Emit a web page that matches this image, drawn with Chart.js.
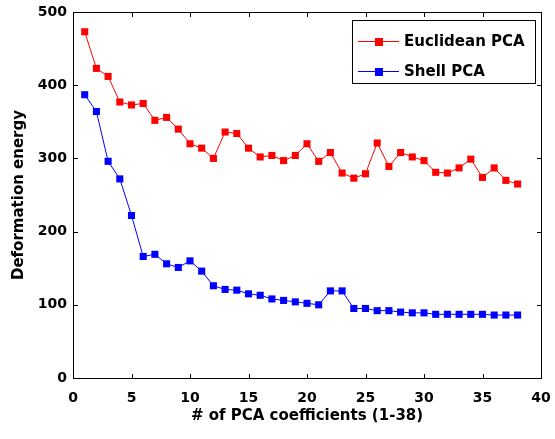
<!DOCTYPE html>
<html>
<head>
<meta charset="utf-8">
<script src="https://cdn.jsdelivr.net/npm/chart.js@4"></script>
<style>
  html, body { margin: 0; padding: 0; background: #fff; }
  canvas { display: block; }
</style>
</head>
<body>
<canvas id="energyChart" width="555" height="439"></canvas>
<script>
const coefficients = [1, 2, 3, 4, 5, 6, 7, 8, 9, 10, 11, 12, 13, 14, 15, 16, 17, 18, 19,
  20, 21, 22, 23, 24, 25, 26, 27, 28, 29, 30, 31, 32, 33, 34, 35, 36, 37, 38];
const euclideanPCA = [473, 423, 412, 377, 373, 375, 352, 356, 340, 320, 314, 300, 336, 334,
  314, 302, 304, 297, 304, 320, 296, 308, 280, 273, 279, 321, 289, 308, 302, 297, 281, 280,
  287, 299, 274, 287, 270, 265];
const shellPCA = [387, 364, 296, 272, 222, 166, 169, 156, 151, 160, 146, 126, 121, 120, 115,
  113, 108, 106, 104, 102, 100, 119, 119, 95, 95, 92, 92, 90, 89, 89, 87, 87, 87, 87, 87,
  86, 86, 86];
const xTicks = [0, 5, 10, 15, 20, 25, 30, 35, 40];
const yTicks = [0, 100, 200, 300, 400, 500];

const font = 'DejaVu Sans, sans-serif';

function toPoints(values) {
  return coefficients.map((c, i) => ({ x: c, y: values[i] }));
}

// matlab style box with inward ticks + legend inside the axes
const axesBoxPlugin = {
  id: 'axesBox',
  afterDraw(chart) {
    const ctx = chart.ctx;
    const xs = chart.scales.x, ys = chart.scales.y;
    const left = Math.round(xs.getPixelForValue(0)), right = Math.round(xs.getPixelForValue(40));
    const top = Math.round(ys.getPixelForValue(500)), bottom = Math.round(ys.getPixelForValue(0));
    ctx.save();
    ctx.fillStyle = '#000';
    ctx.fillRect(left, top, right - left + 1, 1);
    ctx.fillRect(left, bottom, right - left + 1, 1);
    ctx.fillRect(left, top, 1, bottom - top + 1);
    ctx.fillRect(right, top, 1, bottom - top + 1);
    xTicks.forEach(t => {
      const px = Math.round(xs.getPixelForValue(t));
      ctx.fillRect(px, bottom - 4, 1, 4);
      ctx.fillRect(px, top + 1, 1, 4);
    });
    yTicks.forEach(t => {
      const py = Math.round(ys.getPixelForValue(t));
      ctx.fillRect(left + 1, py, 4, 1);
      ctx.fillRect(right - 4, py, 4, 1);
    });

    // legend
    const lx = 352, ly = 20, lw = 183, lh = 63;
    ctx.fillStyle = '#fff';
    ctx.fillRect(lx, ly, lw, lh);
    ctx.fillStyle = '#000';
    ctx.fillRect(lx, ly, lw + 1, 1);
    ctx.fillRect(lx, ly + lh, lw + 1, 1);
    ctx.fillRect(lx, ly, 1, lh + 1);
    ctx.fillRect(lx + lw, ly, 1, lh + 1);
    ctx.font = 'bold 15px ' + font;
    ctx.textBaseline = 'middle';
    chart.data.datasets.forEach((ds, i) => {
      const y = ly + 21 + i * 30;
      ctx.fillStyle = ds.borderColor;
      ctx.fillRect(358, y, 41, 1);
      ctx.fillStyle = ds.backgroundColor;
      ctx.fillRect(375, y - 3, 8, 8);
      ctx.fillStyle = '#000';
      ctx.fillText(ds.label, 404, y + 1);
    });
    ctx.restore();
  }
};

new Chart(document.getElementById('energyChart').getContext('2d'), {
  type: 'line',
  data: {
    datasets: [{
      label: 'Euclidean PCA',
      data: toPoints(euclideanPCA),
      borderColor: '#ff0000',
      backgroundColor: '#ff0000',
      borderWidth: 1,
      pointStyle: 'rect',
      pointRadius: 5,
      pointBorderWidth: 0
    }, {
      label: 'Shell PCA',
      data: toPoints(shellPCA),
      borderColor: '#0000ff',
      backgroundColor: '#0000ff',
      borderWidth: 1,
      pointStyle: 'rect',
      pointRadius: 5,
      pointBorderWidth: 0
    }]
  },
  options: {
    responsive: false,
    animation: false,
    layout: { padding: { left: 10, right: 14, top: 12, bottom: 14 } },
    plugins: { legend: { display: false }, tooltip: { enabled: false } },
    scales: {
      x: {
        type: 'linear',
        min: xTicks[0],
        max: xTicks[xTicks.length - 1],
        afterFit: (scale) => { scale.height = 47; scale.paddingLeft = 0; scale.paddingRight = 0; },
        grid: { display: false, drawTicks: false },
        border: { display: false },
        ticks: { stepSize: 5, color: '#000', padding: 12, maxRotation: 0, font: { family: font, size: 14, weight: 'bold' } },
        title: {
          display: true,
          text: '# of PCA coefficients (1-38)',
          color: '#000',
          padding: 0,
          font: { family: font, size: 15, weight: 'bold' }
        }
      },
      y: {
        min: yTicks[0],
        max: yTicks[yTicks.length - 1],
        afterFit: (scale) => { scale.width = 63; scale.paddingTop = 0; scale.paddingBottom = 0; },
        grid: { display: false, drawTicks: false },
        border: { display: false },
        ticks: { stepSize: 100, color: '#000', padding: 6, font: { family: font, size: 14, weight: 'bold' } },
        title: {
          display: true,
          text: 'Deformation energy',
          color: '#000',
          padding: 0,
          font: { family: font, size: 15, weight: 'bold' }
        }
      }
    }
  },
  plugins: [axesBoxPlugin]
});
</script>
</body>
</html>
